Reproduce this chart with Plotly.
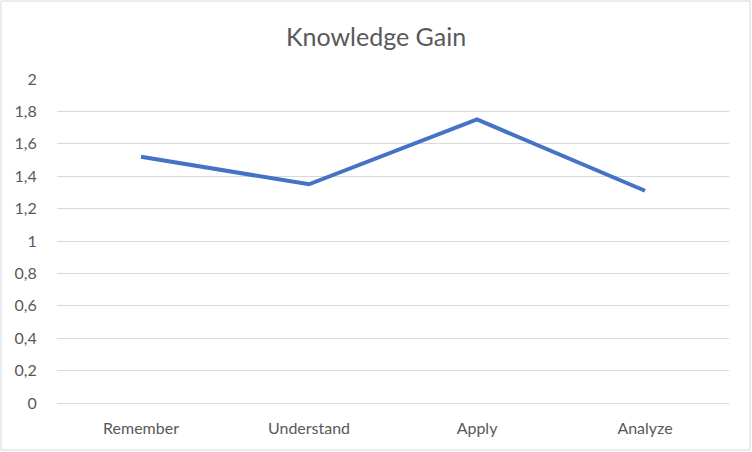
import plotly.graph_objects as go

# Knowledge gain per Bloom level
categories = ["Remember", "Understand", "Apply", "Analyze"]
gain = [1.52, 1.35, 1.75, 1.31]

y_ticks = [0, 0.2, 0.4, 0.6, 0.8, 1, 1.2, 1.4, 1.6, 1.8, 2]
y_tick_labels = ["0", "0,2", "0,4", "0,6", "0,8", "1", "1,2", "1,4", "1,6", "1,8", "2"]

font_family = "Lato, 'Open Sans', sans-serif"

fig = go.Figure()
fig.add_trace(
    go.Scatter(
        x=categories,
        y=gain,
        mode="lines",
        line=dict(color="#4472C4", width=4),
        showlegend=False,
        hoverinfo="x+y",
    )
)

fig.update_layout(
    width=752,
    height=452,
    margin=dict(l=57, r=23, t=79, b=49),
    paper_bgcolor="white",
    plot_bgcolor="white",
    font=dict(family=font_family, color="#595959", size=15),
    title=dict(
        text="Knowledge Gain",
        x=0.5,
        xanchor="center",
        y=0.917,
        yanchor="middle",
        font=dict(size=25, color="#595959", family=font_family),
    ),
)

fig.update_xaxes(
    type="category",
    range=[-0.5, 3.5],
    showgrid=False,
    showline=False,
    zeroline=False,
    ticks="outside",
    ticklen=11,
    tickcolor="rgba(0,0,0,0)",
    tickfont=dict(size=16, color="#595959"),
)
fig.update_yaxes(
    range=[0, 2],
    tickvals=y_ticks,
    ticktext=y_tick_labels,
    showgrid=True,
    gridcolor="#D9D9D9",
    gridwidth=1,
    zeroline=True,
    zerolinecolor="#D9D9D9",
    zerolinewidth=1,
    showline=False,
    ticks="outside",
    ticklen=16,
    tickcolor="rgba(0,0,0,0)",
    tickfont=dict(size=16, color="#595959"),
)

# light chart-area border like the Excel frame
fig.add_shape(
    type="rect",
    xref="paper", yref="paper",
    x0=-56 / 672, x1=693 / 672,
    y0=-47 / 324, y1=402 / 324,
    line=dict(color="#D9D9D9", width=1),
    layer="below",
)

fig.write_html(
    "out.html",
    config={"displayModeBar": False},
    post_script="document.body.style.margin='0';",
)
